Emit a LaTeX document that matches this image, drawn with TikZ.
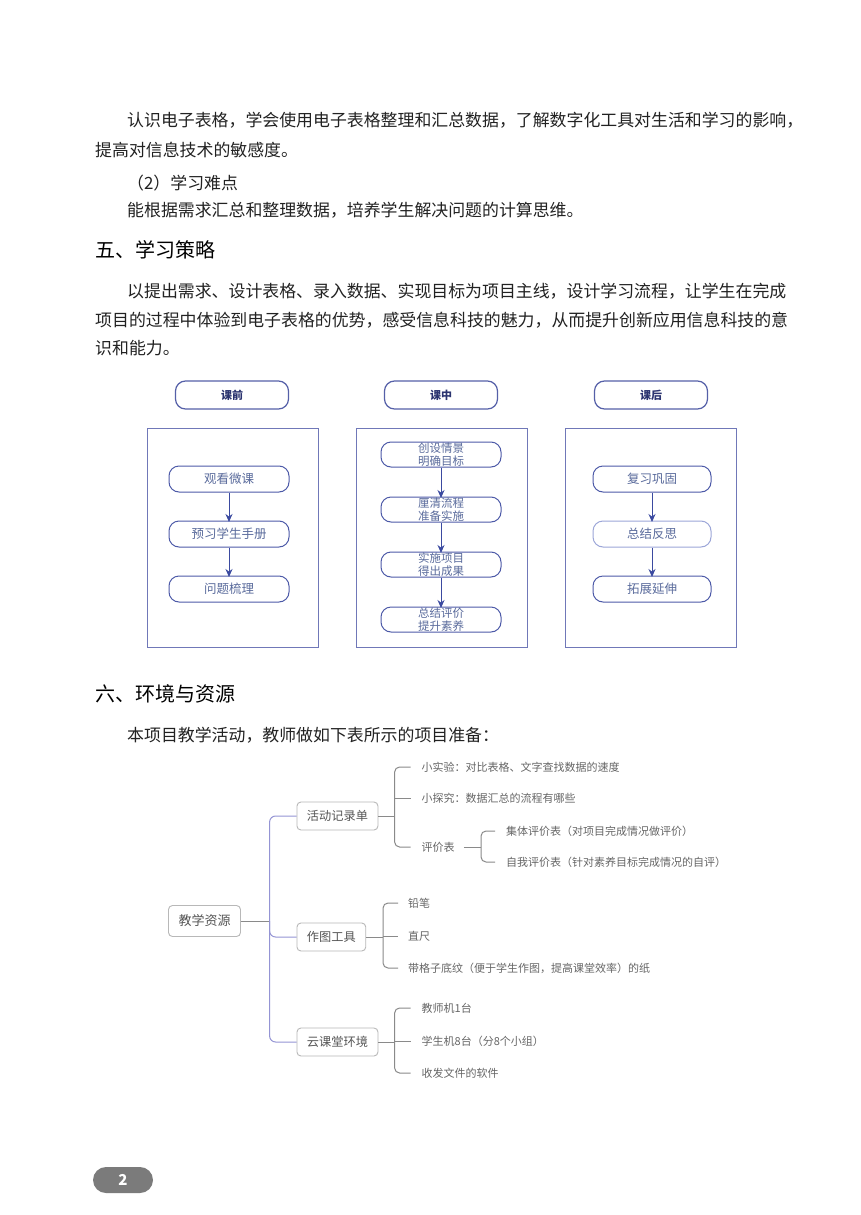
\documentclass[tikz,border=0pt]{standalone}
\usepackage{fontspec}
\setmainfont{Noto Sans CJK SC}
\usepackage{xcolor}
\usetikzlibrary{positioning,arrows.meta}

\definecolor{inkblack}{HTML}{222222}
\definecolor{stageline}{HTML}{5560A8}
\definecolor{stagetext}{HTML}{2B3470}
\definecolor{panelline}{HTML}{7078B8}
\definecolor{boxline}{HTML}{4D5AA8}
\definecolor{boxpale}{HTML}{9CA6D8}
\definecolor{boxtext}{HTML}{5A6B9C}
\definecolor{arrowcol}{HTML}{3B4AA0}
\definecolor{mapline}{HTML}{B8B8B8}
\definecolor{maptext}{HTML}{555555}
\definecolor{leaftext}{HTML}{666666}
\definecolor{trunkcol}{HTML}{9494D4}
\definecolor{twigcol}{HTML}{8A8A8A}
\definecolor{pillgray}{HTML}{7B7B7B}

\begin{document}
\begin{tikzpicture}[
  x=1pt, y=-1pt,
  node distance=28pt,
  body/.style={anchor=west, inner sep=0pt, text=inkblack, font=\fontsize{16.9}{20}\selectfont},
  heading/.style={anchor=west, inner sep=0pt, text=black, font=\fontsize{20}{22}\selectfont},
  stage/.style={draw=stageline, line width=1.2pt, rounded corners=10pt, minimum width=113pt, minimum height=28pt, inner sep=0pt, text=stagetext, font=\fontsize{11}{13}\selectfont\bfseries},
  panel/.style={draw=panelline, line width=1pt, minimum width=171pt, minimum height=219pt, inner sep=0pt},
  stepbox/.style={draw=boxline, line width=1pt, rounded corners=10pt, minimum width=120pt, minimum height=26pt, inner sep=0pt, text=boxtext, font=\fontsize{12.5}{14}\selectfont},
  duobox/.style={stepbox, minimum height=25pt, align=center, font=\fontsize{11.5}{12.5}\selectfont},
  ar/.style={-{Stealth[length=8pt,width=7pt]}, draw=arrowcol, line width=1pt, shorten >=-1.5pt},
  rootbox/.style={draw=mapline, line width=0.9pt, rounded corners=4pt, minimum width=72pt, minimum height=31pt, inner sep=0pt, text=maptext, font=\fontsize{13}{15}\selectfont},
  branch/.style={draw=mapline, line width=0.9pt, rounded corners=4pt, minimum height=28pt, inner xsep=10pt, inner ysep=0pt, text=maptext, font=\fontsize{12.2}{14}\selectfont},
  leaf/.style={anchor=west, inner sep=0pt, text=leaftext, font=\fontsize{11}{13}\selectfont},
  trunk/.style={draw=trunkcol, line width=1pt, rounded corners=6pt},
  twig/.style={draw=twigcol, line width=1pt, rounded corners=5pt},
  pagepill/.style={fill=pillgray, rounded corners=13pt, minimum width=60pt, minimum height=26pt, inner sep=0pt, text=white, font=\fontsize{15}{17}\selectfont\bfseries}]

  \useasboundingbox[fill=white] (0,0) rectangle (860,1215);

  % running text
  \node[body] (t1) at (127,120) {认识电子表格，学会使用电子表格整理和汇总数据，了解数字化工具对生活和学习的影响，};
  \node[body] (t2) at (95,150) {提高对信息技术的敏感度。};
  \node[body] (t3) at (127,183) {（2）学习难点};
  \node[body] (t4) at (127,210) {能根据需求汇总和整理数据，培养学生解决问题的计算思维。};
  \node[heading] (h5) at (95,250) {五、学习策略};
  \node[body] (t5) at (127,291) {以提出需求、设计表格、录入数据、实现目标为项目主线，设计学习流程，让学生在完成};
  \node[body] (t6) at (95,320) {项目的过程中体验到电子表格的优势，感受信息科技的魅力，从而提升创新应用信息科技的意};
  \node[body] (t7) at (95,348) {识和能力。};

  % learning flow
  \node[stage] (pre) at (232,395) {课前};
  \node[stage] (mid) at (441,395) {课中};
  \node[stage] (post) at (651,395) {课后};

  \node[panel] (prepanel) at (232.5,537.5) {};
  \node[panel] (midpanel) at (441.5,537.5) {};
  \node[panel] (postpanel) at (651,537.5) {};

  \node[stepbox] (watch) at (229,479) {观看微课};
  \node[stepbox, below=of watch] (preview) {预习学生手册};
  \node[stepbox, below=of preview] (issue) {问题梳理};

  \node[duobox] (scene) at (441,454.5) {创设情景\\明确目标};
  \node[duobox, below=29pt of scene] (clarify) {厘清流程\\准备实施};
  \node[duobox, below=29pt of clarify] (carry) {实施项目\\得出成果};
  \node[duobox, below=29pt of carry] (assess) {总结评价\\提升素养};

  \node[stepbox, minimum width=118pt] (review) at (652,479) {复习巩固};
  \node[stepbox, minimum width=118pt, draw=boxpale, below=of review] (reflect) {总结反思};
  \node[stepbox, minimum width=118pt, below=of reflect] (extend) {拓展延伸};

  \draw[ar] (watch) -- (preview);
  \draw[ar] (preview) -- (issue);
  \draw[ar] (scene) -- (clarify);
  \draw[ar] (clarify) -- (carry);
  \draw[ar] (carry) -- (assess);
  \draw[ar] (review) -- (reflect);
  \draw[ar] (reflect) -- (extend);

  % resources
  \node[heading] (h6) at (95,694) {六、环境与资源};
  \node[body] (t8) at (127,735) {本项目教学活动，教师做如下表所示的项目准备：};

  \node[rootbox] (root) at (204.5,921) {教学资源};
  \node[branch, anchor=west] (act) at (296.5,816) {活动记录单};
  \node[branch, anchor=west] (tool) at (296.5,937) {作图工具};
  \node[branch, anchor=west] (cloud) at (296.5,1042) {云课堂环境};

  \node[leaf] (exp) at (421.5,767) {小实验：对比表格、文字查找数据的速度};
  \node[leaf] (probe) at (421.5,798) {小探究：数据汇总的流程有哪些};
  \node[leaf] (eval) at (421.5,847) {评价表};
  \node[leaf] (group) at (506,831) {集体评价表（对项目完成情况做评价）};
  \node[leaf] (self) at (506,862) {自我评价表（针对素养目标完成情况的自评）};

  \node[leaf] (pencil) at (408,903) {铅笔};
  \node[leaf] (ruler) at (408,936) {直尺};
  \node[leaf] (paper) at (408,968) {带格子底纹（便于学生作图，提高课堂效率）的纸};

  \node[leaf] (teacher) at (421.5,1008) {教师机1台};
  \node[leaf] (student) at (421.5,1041) {学生机8台（分8个小组）};
  \node[leaf] (share) at (421.5,1073) {收发文件的软件};

  \coordinate (hub) at (269.6,921);
  \coordinate (actfork) at (394.6,816);
  \coordinate (evalfork) at (481,847);
  \coordinate (toolfork) at (383,937);
  \coordinate (cloudfork) at (394.6,1042);

  \draw[twig] (root.east) -- (hub);
  \draw[trunk] (act.west) -| (hub) |- (cloud.west);
  \draw[trunk] (hub) |- (tool.west);

  \draw[twig] (act.east) -- (actfork);
  \draw[twig] ([xshift=-11pt]exp.west) -| (actfork) |- ([xshift=-11pt]eval.west);
  \draw[twig] (probe.west -| actfork) -- ([xshift=-11pt]probe.west);

  \draw[twig] ([xshift=9pt]eval.east) -- (evalfork);
  \draw[twig] ([xshift=-11pt]group.west) -| (evalfork) |- ([xshift=-11pt]self.west);

  \draw[twig] (tool.east) -- (toolfork);
  \draw[twig] ([xshift=-10pt]pencil.west) -| (toolfork) |- ([xshift=-10pt]paper.west);
  \draw[twig] (ruler.west -| toolfork) -- ([xshift=-10pt]ruler.west);

  \draw[twig] (cloud.east) -- (cloudfork);
  \draw[twig] ([xshift=-11pt]teacher.west) -| (cloudfork) |- ([xshift=-11pt]share.west);
  \draw[twig] (student.west -| cloudfork) -- ([xshift=-11pt]student.west);

  % page number
  \node[pagepill] (pg) at (123,1180) {2};
\end{tikzpicture}
\end{document}
